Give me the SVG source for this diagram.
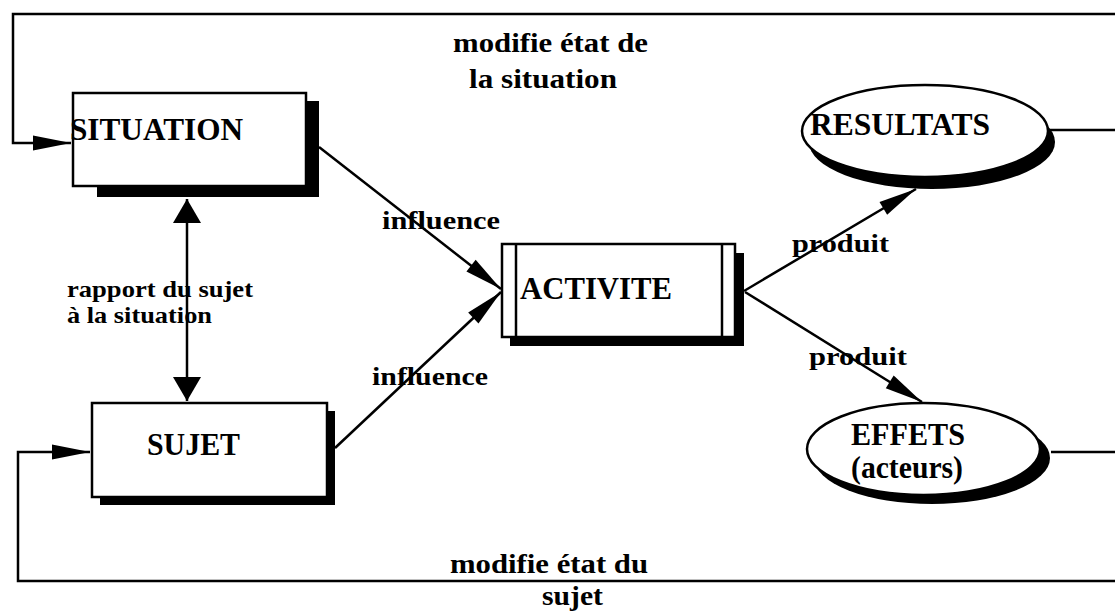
<svg xmlns="http://www.w3.org/2000/svg" width="1115" height="612" viewBox="0 0 1115 612">
<style>
text{font-family:"Liberation Serif","Times New Roman",serif;font-weight:bold;fill:#000}
.box{font-size:32px}
.lbl{font-size:26px}
.sm{font-size:23px}
.big{font-size:28px}
.ln{fill:none;stroke:#000;stroke-width:2.5}
.shape{fill:#fff;stroke:#000;stroke-width:2.5}
.shadow{fill:#000}
</style>
<defs>
<marker id="slim" markerUnits="userSpaceOnUse" viewBox="-42 -10 44 20" refX="0" refY="0" markerWidth="44" markerHeight="20" orient="auto">
<path d="M0,0 L-38,-7.5 L-38,7.5 Z" fill="#000"/>
</marker>
<marker id="wide" markerUnits="userSpaceOnUse" viewBox="-26 -16 28 32" refX="0" refY="0" markerWidth="28" markerHeight="32" orient="auto-start-reverse">
<path d="M0,0 L-24,-14 L-24,14 Z" fill="#000"/>
</marker>
</defs>
<rect width="1115" height="612" fill="#fff"/>
<g id="connectors">
<polyline class="ln" points="1115,14 13,14 13,143 71,143" marker-end="url(#slim)"/>
<polyline class="ln" points="1115,581 18,581 18,452 90,452" marker-end="url(#slim)"/>
<line class="ln" x1="187" y1="199" x2="187" y2="401" marker-start="url(#wide)" marker-end="url(#wide)"/>
<line class="ln" x1="319" y1="147" x2="501" y2="289" marker-end="url(#slim)"/>
<line class="ln" x1="335" y1="448" x2="501" y2="292" marker-end="url(#slim)"/>
<line class="ln" x1="744" y1="291" x2="916" y2="189" marker-end="url(#slim)"/>
<line class="ln" x1="745" y1="292" x2="922" y2="402" marker-end="url(#slim)"/>
<line class="ln" x1="1048" y1="130" x2="1115" y2="130"/>
<line class="ln" x1="1051" y1="452" x2="1115" y2="452"/>
</g>
<g id="situation">
<rect class="shadow" x="97" y="101" width="222" height="96"/>
<rect class="shape" x="73" y="93" width="233" height="93"/>
<text class="box" x="70" y="140" textLength="173" lengthAdjust="spacingAndGlyphs">SITUATION</text>
</g>
<g id="sujet">
<rect class="shadow" x="100" y="411" width="235" height="94"/>
<rect class="shape" x="92" y="403" width="235" height="94"/>
<text class="box" x="147" y="455" textLength="93" lengthAdjust="spacingAndGlyphs">SUJET</text>
</g>
<g id="activite">
<rect class="shadow" x="510" y="253" width="234" height="93"/>
<rect class="shape" x="502" y="244" width="233" height="93"/>
<line class="ln" x1="516" y1="244" x2="516" y2="337" stroke-width="2"/>
<line class="ln" x1="722" y1="244" x2="722" y2="337" stroke-width="2"/>
<text class="box" x="520" y="299" textLength="152" lengthAdjust="spacingAndGlyphs">ACTIVITE</text>
</g>
<g id="resultats">
<ellipse class="shadow" cx="932" cy="142" rx="123" ry="47"/>
<ellipse class="shape" cx="925" cy="131" rx="123" ry="46"/>
<text class="box" x="810" y="135" textLength="180" lengthAdjust="spacingAndGlyphs">RESULTATS</text>
</g>
<g id="effets">
<ellipse class="shadow" cx="932" cy="458" rx="118" ry="46"/>
<ellipse class="shape" cx="923.5" cy="449" rx="116.5" ry="46"/>
<text class="box" x="851" y="445" textLength="114" lengthAdjust="spacingAndGlyphs">EFFETS</text>
<text class="box" x="851" y="478" textLength="112" lengthAdjust="spacingAndGlyphs">(acteurs)</text>
</g>
<g id="labels">
<text class="big" x="453" y="52" textLength="195" lengthAdjust="spacingAndGlyphs">modifie état de</text>
<text class="big" x="469" y="88" textLength="148" lengthAdjust="spacingAndGlyphs">la situation</text>
<text class="lbl" x="382" y="229" textLength="118" lengthAdjust="spacingAndGlyphs">influence</text>
<text class="lbl" x="372" y="385" textLength="116" lengthAdjust="spacingAndGlyphs">influence</text>
<text class="sm" x="67" y="297" textLength="186" lengthAdjust="spacingAndGlyphs">rapport du sujet</text>
<text class="sm" x="67" y="323" textLength="145" lengthAdjust="spacingAndGlyphs">à la situation</text>
<text class="lbl" x="792" y="252" textLength="97" lengthAdjust="spacingAndGlyphs">produit</text>
<text class="lbl" x="809" y="365" textLength="98" lengthAdjust="spacingAndGlyphs">produit</text>
<text class="big" x="450" y="573" textLength="198" lengthAdjust="spacingAndGlyphs">modifie état du</text>
<text class="big" x="542" y="605" textLength="61" lengthAdjust="spacingAndGlyphs">sujet</text>
</g>
</svg>
